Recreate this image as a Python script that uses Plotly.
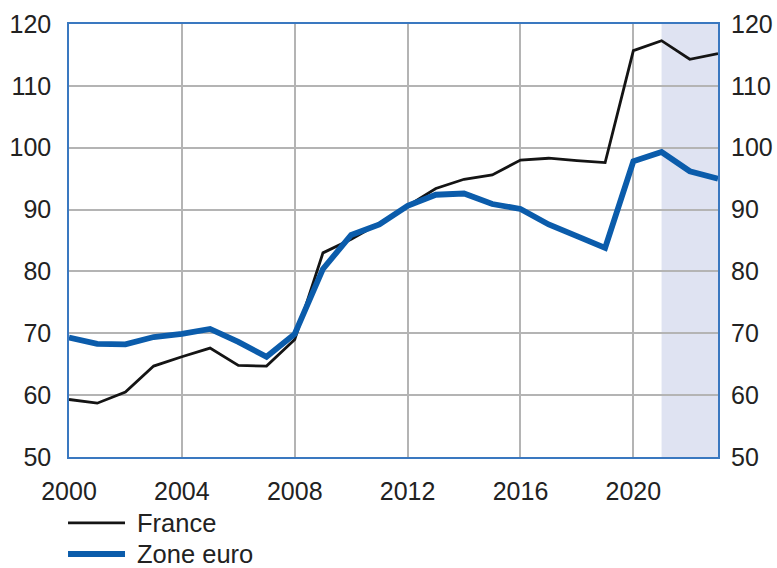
import plotly.graph_objects as go

years = list(range(2000, 2024))
france = [59.3, 58.7, 60.5, 64.7, 66.2, 67.6, 64.8, 64.7, 69.0, 83.0, 85.2, 87.8,
          90.6, 93.4, 94.9, 95.6, 98.0, 98.3, 97.9, 97.6, 115.7, 117.3, 114.3, 115.2]
zone_euro = [69.3, 68.3, 68.2, 69.4, 69.9, 70.7, 68.6, 66.2, 69.9, 80.4, 85.9, 87.6,
             90.6, 92.4, 92.6, 90.9, 90.1, 87.6, 85.7, 83.8, 97.8, 99.3, 96.2, 95.0]
series_names = ["France", "Zone euro"]
shade_start, shade_end = 2021, 2023
x_ticks = [2000, 2004, 2008, 2012, 2016, 2020]
y_ticks = [50, 60, 70, 80, 90, 100, 110, 120]

BLACK = "#141414"
BLUE = "#0b5cab"
FRAME = "#3a78c0"
GRID = "#b4b4b4"
TEXT = "#222222"
FONT = "Liberation Sans, Arial, sans-serif"

fig = go.Figure()
fig.add_trace(go.Scatter(x=years, y=france, name=series_names[0], mode="lines",
                         line=dict(color=BLACK, width=2.8), showlegend=False))
fig.add_trace(go.Scatter(x=years, y=zone_euro, name=series_names[1], mode="lines",
                         line=dict(color=BLUE, width=5.8), showlegend=False))
# invisible trace to activate the right axis
fig.add_trace(go.Scatter(x=[years[0]], y=[y_ticks[0]], yaxis="y2", mode="markers",
                         marker=dict(opacity=0), showlegend=False, hoverinfo="skip"))

fig.add_shape(type="rect", xref="x", yref="paper", x0=shade_start, x1=shade_end,
              y0=0, y1=1, fillcolor="#dfe3f2", line=dict(width=0), layer="below")

# legend drawn below the plot (long line samples as in the reference)
legend_rows = [(series_names[0], BLACK, 2.8, -0.152), (series_names[1], BLUE, 5.8, -0.224)]
for name, color, width, ypos in legend_rows:
    fig.add_shape(type="line", xref="paper", yref="paper", x0=-0.0015, x1=0.0863,
                  y0=ypos, y1=ypos, line=dict(color=color, width=width))
    fig.add_annotation(text=name, xref="paper", yref="paper", x=0.1017, y=ypos,
                       xanchor="left", yanchor="middle", showarrow=False,
                       font=dict(size=25.5, color=TEXT, family=FONT))

axis_common = dict(showgrid=True, gridcolor=GRID, gridwidth=1.5, showline=True,
                   linecolor=FRAME, linewidth=1.5, mirror=True, zeroline=False,
                   automargin=False, ticks="outside", tickcolor="rgba(0,0,0,0)",
                   tickfont=dict(size=25, color=TEXT))

fig.update_layout(
    width=777, height=568,
    margin=dict(l=69, r=59, t=24, b=111),
    paper_bgcolor="white", plot_bgcolor="white",
    font=dict(family=FONT, size=25, color=TEXT),
    xaxis=dict(range=[2000, 2023], tickvals=x_ticks, ticklen=11, **axis_common),
    yaxis=dict(range=[50, 120], tickvals=y_ticks, ticklen=11, **axis_common),
    yaxis2=dict(range=[50, 120], tickvals=y_ticks, overlaying="y", side="right",
                showgrid=False, showline=False, zeroline=False, automargin=False,
                ticks="outside", ticklen=7, tickcolor="rgba(0,0,0,0)",
                tickfont=dict(size=25, color=TEXT)),
    showlegend=False,
)

# remove the browser's default body margin so the figure fills the window exactly
fig.write_html("out.html", config={"displayModeBar": False},
               post_script="document.body.style.margin='0';document.body.style.overflow='hidden';")
